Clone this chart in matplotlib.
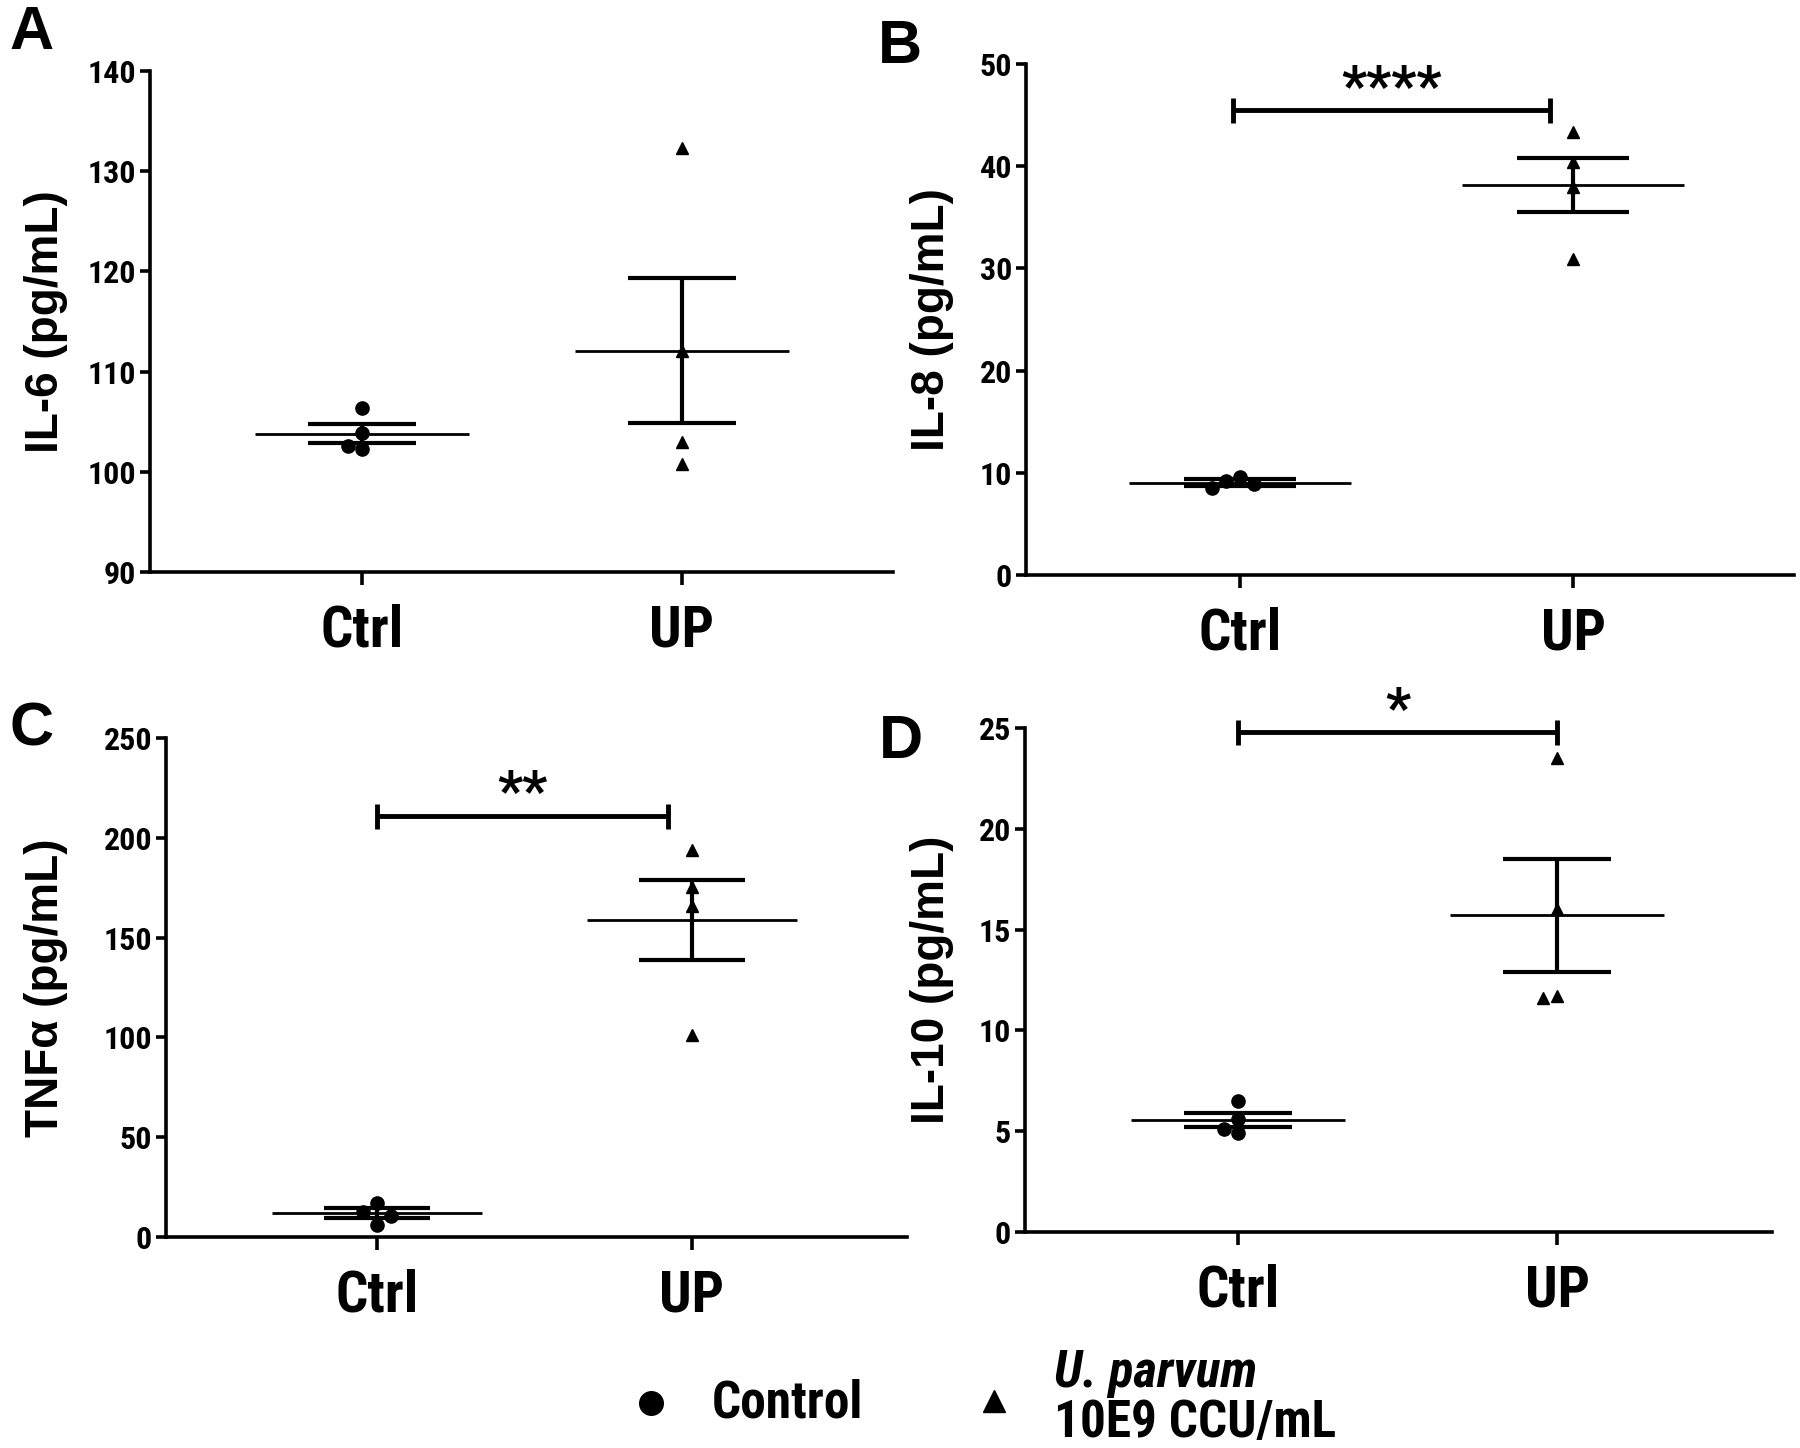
import matplotlib
matplotlib.use("Agg")
import matplotlib.pyplot as plt
from matplotlib.lines import Line2D
from matplotlib import font_manager as fm
import numpy as np

# ---------------- data ----------------
groups = ["Ctrl", "UP"]

il6_ctrl = [106.4, 103.9, 102.6, 102.3]
il6_up = [132.3, 112.1, 103.0, 100.8]
il6_mean = [103.8, 112.1]
il6_sem = [0.95, 7.2]

il8_ctrl = [9.6, 9.2, 8.9, 8.5]
il8_up = [43.3, 40.4, 38.0, 30.9]
il8_mean = [9.05, 38.15]
il8_sem = [0.3, 2.65]

tnf_ctrl = [17.2, 12.7, 10.7, 6.0]
tnf_up = [194.0, 175.5, 165.7, 101.0]
tnf_mean = [12.0, 158.8]
tnf_sem = [2.35, 20.2]

il10_ctrl = [6.5, 5.6, 5.1, 4.9]
il10_up = [23.5, 16.0, 11.7, 11.6]
il10_mean = [5.55, 15.7]
il10_sem = [0.35, 2.8]

ylabels = ["IL-6 (pg/mL)", "IL-8 (pg/mL)", "TNFα (pg/mL)", "IL-10 (pg/mL)"]
panel_letters = ["A", "B", "C", "D"]
yticks_A = [90, 100, 110, 120, 130, 140]
yticks_B = [0, 10, 20, 30, 40, 50]
yticks_C = [0, 50, 100, 150, 200, 250]
yticks_D = [0, 5, 10, 15, 20, 25]

# significance: (x start, x end, y, label) or None
sig_A = None
sig_B = (-0.02, 0.93, 45.5, "****")
sig_C = (0.0, 0.925, 211.0, "**")
sig_D = (0.0, 1.0, 24.8, "*")

legend_labels = ["Control", "U. parvum", "10E9 CCU/mL"]


# ---------------- fonts ----------------
def find_narrow(italic=False):
    prefs = ["liberation sans narrow", "arial narrow", "roboto condensed",
             "open sans condensed", "noto sans condensed", "dejavu sans condensed",
             "lato condensed", "inter condensed"]
    best = None
    for f in fm.fontManager.ttflist:
        key = (f.name + " " + f.fname).lower().replace("-", " ").replace("_", " ")
        is_cond = ("narrow" in key or "condensed" in key or f.stretch in ("condensed", 500))
        if not is_cond or "semi" in key or "extra" in key or "ultra" in key:
            continue
        w = f.weight if isinstance(f.weight, int) else {"bold": 700, "normal": 400}.get(str(f.weight), 400)
        if w < 650 or w > 750:
            continue
        it = f.style in ("italic", "oblique")
        if it != italic:
            continue
        rank = len(prefs)
        for i, p in enumerate(prefs):
            if all(x in key for x in p.split()):
                rank = i
                break
        if best is None or rank < best[0]:
            best = (rank, f.fname)
    return best[1] if best else None


narrow_file = find_narrow(False)
narrow_it_file = find_narrow(True)
WIDE = ["Liberation Sans", "DejaVu Sans"]


def narrow_fp(size, italic=False):
    fname = narrow_it_file if italic else narrow_file
    if fname:
        return fm.FontProperties(fname=fname, size=size)
    return fm.FontProperties(family=WIDE, weight="bold", size=size * 0.86,
                             style="italic" if italic else "normal")


# ---------------- layout (pixels) ----------------
W, H = 1800, 1448
fig = plt.figure(figsize=(W / 100, H / 100), dpi=100)

# left, right, top, bottom, ctrl tick x, up tick x
layout = [
    (150, 893, 71, 572, 362, 682),
    (1026, 1794, 64, 575, 1240, 1573),
    (166, 907, 738, 1237, 377, 692),
    (1025, 1772, 728, 1232, 1238, 1557),
]
letter_pos = [(9, 49), (878, 63), (9, 746), (879, 758)]
ylabel_x = [46, 932, 46, 932]

datasets = [
    (il6_ctrl, il6_up, il6_mean, il6_sem, yticks_A, sig_A),
    (il8_ctrl, il8_up, il8_mean, il8_sem, yticks_B, sig_B),
    (tnf_ctrl, tnf_up, tnf_mean, tnf_sem, yticks_C, sig_C),
    (il10_ctrl, il10_up, il10_mean, il10_sem, yticks_D, sig_D),
]


def swarm_offsets(vals, px_per_unit, px_per_x, diam=14.0):
    """Greedy beeswarm: returns x offsets (data units)."""
    order = np.argsort(vals)[::-1]
    placed = []
    offs = np.zeros(len(vals))
    cands = [0, -1, 1, -2, 2, -3, 3]
    for i in order:
        yi = vals[i] * px_per_unit
        for c in cands:
            xi = c * diam
            ok = all((xi - xp) ** 2 + (yi - yp) ** 2 >= (diam * 0.95) ** 2 for xp, yp in placed)
            if ok:
                placed.append((xi, yi))
                offs[i] = xi / px_per_x
                break
    return offs


for k, (lay, ds) in enumerate(zip(layout, datasets)):
    left, right, top, bottom, xc, xu = lay
    ctrl, up, mean, sem, yt, sig = ds
    ax = fig.add_axes([left / W, 1 - bottom / H, (right - left) / W, (bottom - top) / H])
    dx = xu - xc
    ax.set_xlim((left - xc) / dx, (right - xc) / dx)
    ax.set_ylim(yt[0], yt[-1])
    ppu = (bottom - top) / (yt[-1] - yt[0])

    for gi, (vals, mk, ms) in enumerate([(ctrl, "o", 9.5), (up, "^", 8.5)]):
        vals = np.asarray(vals, float)
        offs = swarm_offsets(vals, ppu, dx)
        ax.plot(gi + offs, vals, ls="none", marker=mk, ms=ms, color="black", zorder=3, clip_on=False)

    g = np.arange(len(groups))
    m = np.asarray(mean)
    s = np.asarray(sem)
    ax.hlines(m, g - 0.334, g + 0.334, color="black", lw=2.0, zorder=4)
    ax.hlines(m + s, g - 0.168, g + 0.168, color="black", lw=3.0, zorder=4)
    ax.hlines(m - s, g - 0.168, g + 0.168, color="black", lw=3.0, zorder=4)
    ax.vlines(g, m - s, m + s, color="black", lw=3.0, zorder=4)

    if sig is not None:
        x0, x1, yy, lab = sig
        ax.plot([x0, x1], [yy, yy], color="black", lw=3.5, solid_capstyle="butt", clip_on=False)
        ax.plot([x0, x1], [yy, yy], ls="none", marker="|", ms=18, mew=3.5, color="black", clip_on=False)
        ax.annotate(lab, xy=((x0 + x1) / 2, yy), xytext=(0, -4), textcoords="offset points",
                    ha="center", va="bottom", fontproperties=narrow_fp(40))

    for sp in ["top", "right"]:
        ax.spines[sp].set_visible(False)
    for sp in ["left", "bottom"]:
        ax.spines[sp].set_linewidth(2.6)
    ax.set_yticks(yt)
    ax.set_yticklabels([str(v) for v in yt])
    for t in ax.get_yticklabels():
        t.set_fontproperties(narrow_fp(23))
    ax.set_xticks(g)
    ax.set_xticklabels(groups)
    for t in ax.get_xticklabels():
        t.set_fontproperties(narrow_fp(41))
    ax.tick_params(axis="y", length=7, width=2.6, pad=3)
    ax.tick_params(axis="x", length=9, width=2.6, pad=14)

    fig.text(ylabel_x[k] / W, 1 - ((top + bottom) / 2) / H, ylabels[k], rotation=90,
             ha="center", va="center", fontsize=33, fontweight="bold", family=WIDE)
    lx, ly = letter_pos[k]
    fig.text(lx / W, 1 - ly / H, panel_letters[k], ha="left", va="baseline",
             fontsize=44, fontweight="bold", family=WIDE)

# ---------------- legend ----------------
fig.add_artist(Line2D([651 / W], [1 - 1403 / H], marker="o", ms=17, color="black", ls="none"))
fig.text(712 / W, 1 - 1403 / H, legend_labels[0], ha="left", va="center",
         fontproperties=narrow_fp(37))
fig.add_artist(Line2D([994 / W], [1 - 1401 / H], marker="^", ms=16, color="black", ls="none"))
fig.text(1054 / W, 1 - 1373 / H, legend_labels[1], ha="left", va="center",
         fontproperties=narrow_fp(37, italic=True))
fig.text(1054 / W, 1 - 1423 / H, legend_labels[2], ha="left", va="center",
         fontproperties=narrow_fp(37))

fig.savefig("out.png", dpi=100, facecolor="white")
